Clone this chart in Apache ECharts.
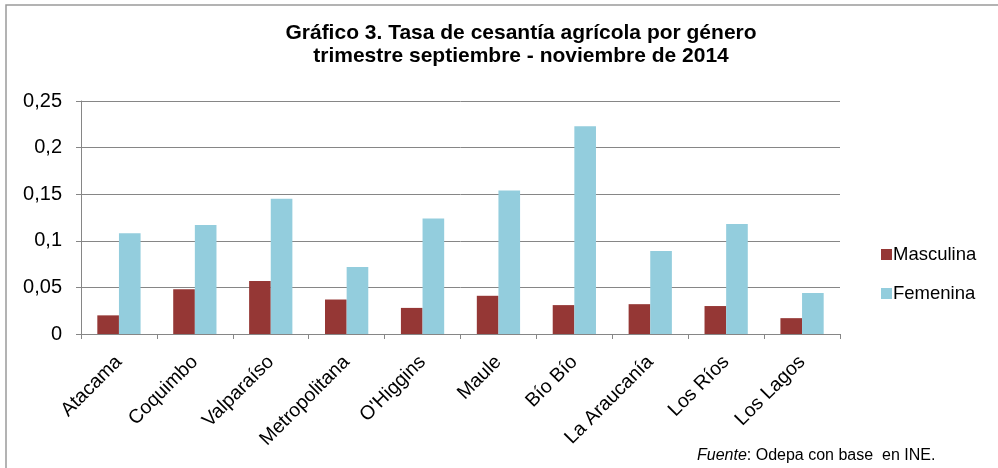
<!DOCTYPE html>
<html>
<head>
<meta charset="utf-8">
<script src="https://cdn.jsdelivr.net/npm/echarts@6/dist/echarts.min.js"></script>
<style>
  html, body { margin: 0; padding: 0; background: #fff; }
  #chart { width: 998px; height: 468px; }
</style>
</head>
<body>
<div id="chart"></div>
<script>
var regiones = ["Atacama", "Coquimbo", "Valparaíso", "Metropolitana", "O'Higgins",
    "Maule", "Bío Bío", "La Araucanía", "Los Ríos", "Los Lagos"];
var masculina = [0.020, 0.048, 0.057, 0.037, 0.028, 0.041, 0.031, 0.032, 0.030, 0.017];
var femenina = [0.108, 0.117, 0.145, 0.072, 0.124, 0.154, 0.223, 0.089, 0.118, 0.044];
var yTicks = [0, 0.05, 0.1, 0.15, 0.2, 0.25];

(function() {
    var chart = echarts.init(document.getElementById("chart"), null, { renderer: "canvas" });
    var font = "'Liberation Sans', Arial, sans-serif";

    var option = {
        animation: false,
        textStyle: { fontFamily: font },
        graphic: [{
            type: "rect",
            shape: { x: 6, y: 5, width: 1000, height: 500 },
            style: { fill: null, stroke: "#9a9a9a", lineWidth: 1.5 },
            silent: true
        }, {
            type: "text",
            left: 697,
            top: 448,
            style: {
                text: "{i|Fuente}: Odepa con base  en INE.",
                rich: {
                    i: { fontStyle: "italic", fontSize: 16, fontFamily: font, fill: "#000" }
                },
                fontSize: 16,
                fontFamily: font,
                fill: "#000"
            }
        }],
        title: {
            text: "Gráfico 3. Tasa de cesantía agrícola por género\ntrimestre septiembre - noviembre de 2014",
            left: 516,
            textAlign: "center",
            top: 17,
            textStyle: {
                fontFamily: font,
                fontSize: 21,
                fontWeight: "bold",
                color: "#000",
                lineHeight: 23
            }
        },
        legend: {
            orient: "vertical",
            left: 876,
            top: 240,
            itemWidth: 11,
            itemHeight: 11,
            itemGap: 20,
            icon: "rect",
            textStyle: { fontFamily: font, fontSize: 18.5, color: "#000", padding: [0, 0, 0, -4] },
            data: ["Masculina", "Femenina"]
        },
        grid: {
            left: 81,
            right: 158,
            top: 101,
            bottom: 134
        },
        xAxis: {
            type: "category",
            data: regiones,
            axisLine: { lineStyle: { color: "#868686", width: 1 } },
            axisTick: { show: true, length: 5, lineStyle: { color: "#868686" } },
            axisLabel: {
                rotate: 45,
                margin: 25,
                interval: 0,
                fontFamily: font,
                fontSize: 19.5,
                color: "#000"
            }
        },
        yAxis: {
            type: "value",
            min: yTicks[0],
            max: yTicks[yTicks.length - 1],
            interval: 0.05,
            axisLine: { show: true, lineStyle: { color: "#868686" } },
            axisTick: { show: true, length: 5, inside: false, lineStyle: { color: "#868686" } },
            splitLine: { lineStyle: { color: "#868686", width: 1 } },
            axisLabel: {
                margin: 19,
                fontFamily: font,
                fontSize: 20,
                color: "#000",
                formatter: function(v) {
                    return String(+v.toFixed(2)).replace(".", ",");
                }
            }
        },
        series: [{
            name: "Masculina",
            type: "bar",
            data: masculina,
            barGap: "0%",
            barCategoryGap: "43%",
            itemStyle: { color: "#953735" }
        }, {
            name: "Femenina",
            type: "bar",
            data: femenina,
            itemStyle: { color: "#93CDDD" }
        }]
    };

    chart.setOption(option);
}());
</script>
</body>
</html>
